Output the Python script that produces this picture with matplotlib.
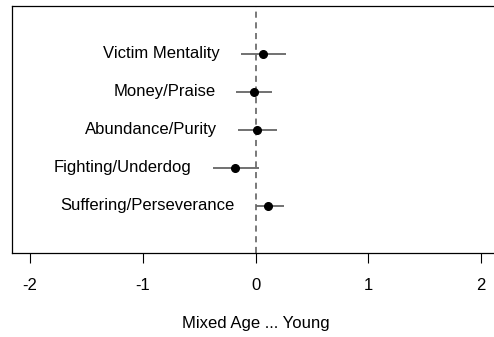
import matplotlib
matplotlib.use("Agg")
import matplotlib.pyplot as plt

plt.rcParams['font.family'] = ['Liberation Sans', 'DejaVu Sans']

# coefficient plot: Mixed Age vs Young
labels = ["Suffering/Perseverance", "Fighting/Underdog", "Abundance/Purity",
          "Money/Praise", "Victim Mentality"]
est = [0.11, -0.18, 0.013, -0.01, 0.07]
lo = [0.00, -0.38, -0.155, -0.17, -0.13]
hi = [0.25, 0.03, 0.19, 0.15, 0.27]
ticks = [-2, -1, 0, 1, 2]

fig = plt.figure(figsize=(4.94, 3.37), dpi=100)
ax = fig.add_axes([12 / 494, 1 - 253 / 337, 487 / 494, 247 / 337])

pos = list(range(1, len(labels) + 1))
ax.axvline(0, color="#555555", linestyle=(0, (4, 3)), linewidth=1.1, zorder=1)
ax.hlines(pos, lo, hi, color="#666666", linewidth=1.3, zorder=2)
ax.plot(est, pos, "o", color="black", markersize=5.5, zorder=3)

for y, l, name in zip(pos, lo, labels):
    ax.annotate(name, (l, y), xytext=(-15, 0), textcoords="offset points",
                ha="right", va="center", fontsize=12)

ax.set_xlim(-2.16, 2.16)
ax.set_ylim(-0.24, 6.26)
ax.set_yticks([])
ax.set_xticks(ticks)
ax.set_xticklabels([str(t) for t in ticks], fontsize=12)
ax.tick_params(axis="x", direction="out", length=7.5, width=0.8, pad=10.5)
ax.set_xlabel("Mixed Age ... Young", fontsize=12, labelpad=16.5)
ax.spines["right"].set_visible(False)
for s in ax.spines.values():
    s.set_linewidth(0.9)

fig.savefig("out.png", dpi=100)
